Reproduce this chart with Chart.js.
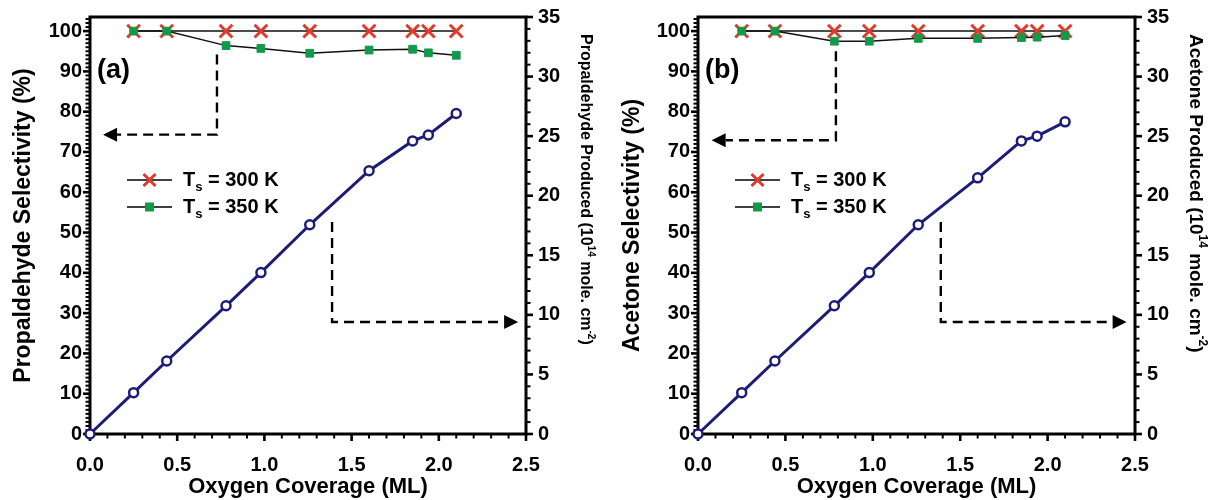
<!DOCTYPE html>
<html>
<head>
<meta charset="utf-8">
<script src="https://cdn.jsdelivr.net/npm/chart.js@4.4.0/dist/chart.umd.min.js"></script>
<style>
  html, body { margin: 0; padding: 0; background: #fff; }
  #wrap { position: relative; width: 1212px; height: 500px; }
  canvas { position: absolute; top: 0; }
  #chartA { left: 0; }
  #chartB { left: 606px; }
</style>
</head>
<body>
<div id="wrap">
  <canvas id="chartA" width="606" height="500"></canvas>
  <canvas id="chartB" width="606" height="500"></canvas>
</div>
<script>
/* ---- values ---- */
const coverage = [0, 0.25, 0.44, 0.78, 0.98, 1.26, 1.6, 1.85, 1.94, 2.1];
const selCoverage = [0.25, 0.44, 0.78, 0.98, 1.26, 1.6, 1.85, 1.94, 2.1];

const propSel300 = [100, 100, 100, 100, 100, 100, 100, 100, 100];
const propSel350 = [100, 100, 96.4, 95.7, 94.5, 95.3, 95.5, 94.6, 94.0];
const propProduced = [0, 3.47, 6.13, 10.76, 13.55, 17.56, 22.1, 24.6, 25.1, 26.9];

const aceSel300 = [100, 100, 100, 100, 100, 100, 100, 100, 100];
const aceSel350 = [100, 100, 97.5, 97.5, 98.2, 98.2, 98.4, 98.5, 98.9];
const aceProduced = [0, 3.47, 6.13, 10.76, 13.55, 17.56, 21.5, 24.6, 25.0, 26.2];

const xTicks = [0, 0.5, 1, 1.5, 2, 2.5];
const selTicks = [0, 10, 20, 30, 40, 50, 60, 70, 80, 90, 100];
const producedTicks = [0, 5, 10, 15, 20, 25, 30, 35];

const RED = "#e5392c";
const GREEN = "#16984a";
const NAVY = "#1d1c78";
const FONT = "'Liberation Sans', Arial, sans-serif";

const zip = (xs, ys) => xs.map((x, i) => ({ x: x, y: ys[i] }));

/* ---- frame, minor ticks, arrows, legend, labels ---- */
function tickRun(ctx, scale, step, count, side) {
  for (let i = 0; i <= count; i++) {
    const v = +(i * step).toFixed(4);
    if (v > scale.max + 1e-6) break;
    const major = scale.ticks.some((t) => Math.abs(t.value - v) < 1e-6);
    const len = major ? 7 : 4.5;
    ctx.lineWidth = major ? 2.6 : 2;
    const p = scale.getPixelForValue(v);
    ctx.beginPath();
    if (side === "bottom") { ctx.moveTo(p, scale.top); ctx.lineTo(p, scale.top + len); }
    if (side === "left") { ctx.moveTo(scale.right, p); ctx.lineTo(scale.right - len, p); }
    if (side === "right") { ctx.moveTo(scale.left, p); ctx.lineTo(scale.left + len, p); }
    ctx.stroke();
  }
}

function drawArrow(ctx, chart, arrow) {
  const xs = chart.scales.x, ys = chart.scales[arrow.axis];
  const pts = arrow.pts.map((p) => [xs.getPixelForValue(p[0]), ys.getPixelForValue(p[1])]);
  const tip = pts[pts.length - 1], prev = pts[pts.length - 2];
  const dx = tip[0] - prev[0], dy = tip[1] - prev[1];
  const d = Math.hypot(dx, dy), ux = dx / d, uy = dy / d;
  const head = 14, half = 7;
  const base = [tip[0] - ux * head, tip[1] - uy * head];
  ctx.save();
  ctx.strokeStyle = "#000";
  ctx.lineWidth = 2.4;
  ctx.setLineDash([10, 6]);
  ctx.beginPath();
  ctx.moveTo(pts[0][0], pts[0][1]);
  for (let i = 1; i < pts.length - 1; i++) ctx.lineTo(pts[i][0], pts[i][1]);
  ctx.lineTo(base[0], base[1]);
  ctx.stroke();
  ctx.setLineDash([]);
  ctx.fillStyle = "#000";
  ctx.beginPath();
  ctx.moveTo(tip[0], tip[1]);
  ctx.lineTo(base[0] - uy * half, base[1] + ux * half);
  ctx.lineTo(base[0] + uy * half, base[1] - ux * half);
  ctx.closePath();
  ctx.fill();
  ctx.restore();
}

function drawRich(ctx, parts, size) {
  let x = 0;
  parts.forEach((p) => {
    const s = p.sup ? Math.round(size * 0.62) : size;
    ctx.font = "bold " + s + "px " + FONT;
    ctx.fillText(p.t, x, p.sup ? -size * 0.38 : 0);
    x += ctx.measureText(p.t).width;
  });
}

const decor = {
  id: "decor",
  beforeDatasetsDraw(chart, args, opts) {
    const { ctx, chartArea: a } = chart;
    ctx.save();
    ctx.strokeStyle = "#000";
    tickRun(ctx, chart.scales.x, 0.1, 25, "bottom");
    tickRun(ctx, chart.scales.y, 1, 104, "left");
    tickRun(ctx, chart.scales.y2, 1, 35, "right");
    ctx.lineWidth = 3;
    ctx.strokeRect(a.left, a.top, a.right - a.left, a.bottom - a.top);
    ctx.restore();
    opts.arrows.forEach((ar) => drawArrow(ctx, chart, ar));
  },
  afterDraw(chart, args, opts) {
    const { ctx, chartArea: a } = chart;
    ctx.save();
    ctx.fillStyle = "#000";
    ctx.textBaseline = "middle";
    ctx.font = "bold 27px " + FONT;
    ctx.fillText(opts.panel, a.left + 7, 71);

    // legend
    opts.legend.forEach((row, i) => {
      const y = a.top + 163 + i * 27;
      const x0 = a.left + 37, x1 = a.left + 82, xc = (x0 + x1) / 2;
      ctx.strokeStyle = "#000";
      ctx.lineWidth = 1.6;
      ctx.beginPath(); ctx.moveTo(x0, y); ctx.lineTo(x1, y); ctx.stroke();
      if (row.marker === "x") {
        ctx.strokeStyle = RED; ctx.lineWidth = 3;
        ctx.beginPath();
        ctx.moveTo(xc - 6, y - 6); ctx.lineTo(xc + 6, y + 6);
        ctx.moveTo(xc + 6, y - 6); ctx.lineTo(xc - 6, y + 6);
        ctx.stroke();
      } else {
        ctx.fillStyle = GREEN;
        ctx.fillRect(xc - 4.5, y - 4.5, 9, 9);
      }
      ctx.fillStyle = "#000";
      let tx = a.left + 93;
      ctx.font = "bold 20px " + FONT;
      ctx.fillText("T", tx, y);
      tx += ctx.measureText("T").width;
      ctx.font = "bold 13px " + FONT;
      ctx.fillText("s", tx, y + 7);
      tx += ctx.measureText("s").width;
      ctx.font = "bold 20px " + FONT;
      ctx.fillText(" = " + row.temp, tx, y);
    });

    // right axis title
    ctx.translate(opts.rightTitleX, opts.rightTitleY);
    ctx.rotate(Math.PI / 2);
    ctx.textBaseline = "middle";
    drawRich(ctx, opts.rightTitle, opts.rightTitleSize);
    ctx.restore();
  }
};

function makePanel(id, p) {
  const tickFont = { family: FONT, size: 20, weight: "bold" };
  return new Chart(document.getElementById(id), {
    type: "line",
    data: {
      datasets: [
        {
          label: "Ts = 350 K",
          data: zip(selCoverage, p.sel350),
          yAxisID: "y",
          borderColor: "#111",
          borderWidth: 1.5,
          pointStyle: "rect",
          pointRadius: 5.5,
          pointBackgroundColor: GREEN,
          pointBorderColor: GREEN,
          pointBorderWidth: 1,
        },
        {
          label: "Ts = 300 K",
          data: zip(selCoverage, p.sel300),
          yAxisID: "y",
          borderColor: "#111",
          borderWidth: 1.5,
          pointStyle: "crossRot",
          pointRadius: 9,
          pointBorderColor: RED,
          pointBorderWidth: 3,
        },
        {
          label: p.producedLabel,
          data: zip(coverage, p.produced),
          yAxisID: "y2",
          borderColor: NAVY,
          borderWidth: 3,
          pointStyle: "circle",
          pointRadius: 4.5,
          pointBackgroundColor: "#fff",
          pointBorderColor: NAVY,
          pointBorderWidth: 2.5,
          clip: false,
        },
      ],
    },
    options: {
      responsive: false,
      animation: false,
      layout: { padding: { top: 17, left: 0, right: 0, bottom: 0 } },
      elements: { line: { tension: 0 } },
      plugins: {
        legend: { display: false },
        tooltip: { enabled: false },
        decor: {
          panel: p.panel,
          legend: [{ marker: "x", temp: "300 K" }, { marker: "sq", temp: "350 K" }],
          arrows: p.arrows,
          rightTitle: p.rightTitle,
          rightTitleX: p.rightTitleX,
          rightTitleY: 34,
          rightTitleSize: p.rightTitleSize,
        },
      },
      scales: {
        x: {
          type: "linear",
          min: 0,
          max: 2.5,
          afterBuildTicks: (s) => { s.ticks = xTicks.map((v) => ({ value: v })); },
          afterFit: (s) => { s.height = 66; },
          ticks: { callback: (v) => v.toFixed(1), font: tickFont, color: "#000", padding: 12, maxRotation: 0, autoSkip: false },
          grid: { display: false, drawTicks: true, tickLength: 7 },
          border: { display: false },
          title: { display: true, text: "Oxygen Coverage (ML)", color: "#000", font: { family: FONT, size: 22, weight: "bold" }, padding: { top: 0, bottom: 0 } },
        },
        y: {
          position: "left",
          min: 0,
          max: 103.5,
          afterBuildTicks: (s) => { s.ticks = selTicks.map((v) => ({ value: v })); },
          afterFit: (s) => { s.width = p.leftWidth; },
          ticks: { font: tickFont, color: "#000", padding: 1 },
          grid: { display: false, drawTicks: true, tickLength: 7 },
          border: { display: false },
          title: { display: true, text: p.leftTitle, color: "#000", font: { family: FONT, size: 23, weight: "bold" }, padding: { top: p.leftTitlePad, bottom: 0 } },
        },
        y2: {
          position: "right",
          min: 0,
          max: 35,
          afterBuildTicks: (s) => { s.ticks = producedTicks.map((v) => ({ value: v })); },
          afterFit: (s) => { s.width = p.rightWidth; },
          ticks: { font: tickFont, color: "#000", padding: 5 },
          grid: { display: false, drawTicks: true, tickLength: 7 },
          border: { display: false },
        },
      },
    },
    plugins: [decor],
  });
}

makePanel("chartA", {
  panel: "(a)",
  sel300: propSel300,
  sel350: propSel350,
  produced: propProduced,
  producedLabel: "Propaldehyde Produced",
  leftTitle: "Propaldehyde Selectivity (%)",
  leftTitlePad: 10,
  leftWidth: 90,
  rightWidth: 80,
  rightTitle: [{ t: "Propaldehyde Produced (10" }, { t: "14", sup: true }, { t: " mole. cm" }, { t: "-2", sup: true }, { t: ")" }],
  rightTitleX: 585,
  rightTitleSize: 16,
  arrows: [
    { axis: "y", pts: [[0.728, 94.2], [0.728, 74.3], [0.075, 74.3]] },
    { axis: "y2", pts: [[1.388, 17.8], [1.388, 9.4], [2.455, 9.4]] },
  ],
});

makePanel("chartB", {
  panel: "(b)",
  sel300: aceSel300,
  sel350: aceSel350,
  produced: aceProduced,
  producedLabel: "Acetone Produced",
  leftTitle: "Acetone Selectivity (%)",
  leftTitlePad: 13,
  leftWidth: 92,
  rightWidth: 77,
  rightTitle: [{ t: "Acetone Produced (10" }, { t: "14", sup: true }, { t: " mole. cm" }, { t: "-2", sup: true }, { t: ")" }],
  rightTitleX: 589,
  rightTitleSize: 19,
  arrows: [
    { axis: "y", pts: [[0.789, 95.0], [0.789, 72.9], [0.078, 72.9]] },
    { axis: "y2", pts: [[1.389, 17.8], [1.389, 9.4], [2.452, 9.4]] },
  ],
});
</script>
</body>
</html>
